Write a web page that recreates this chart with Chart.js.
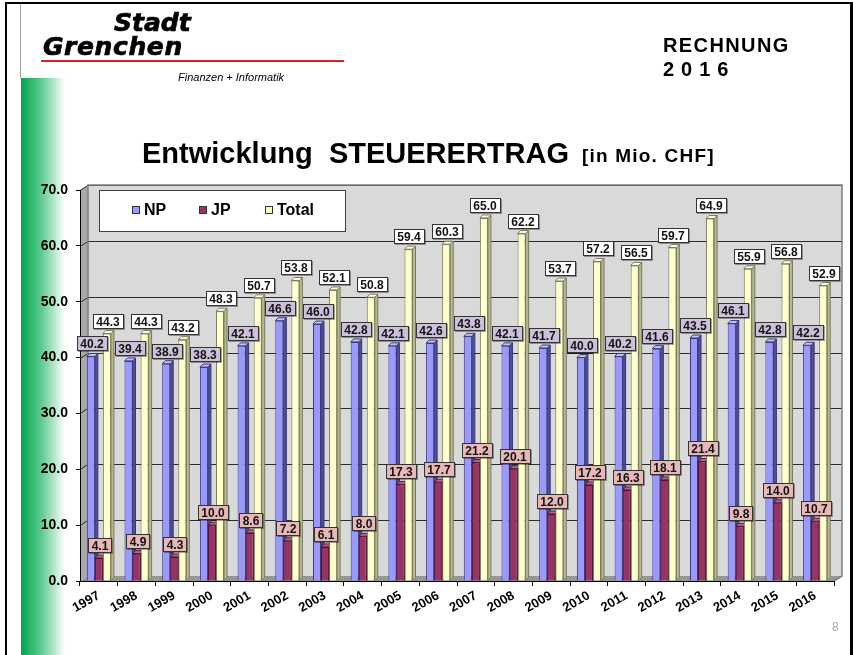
<!DOCTYPE html>
<html>
<head>
<meta charset="utf-8">
<script src="https://cdn.jsdelivr.net/npm/chart.js@4.4.1/dist/chart.umd.min.js"></script>
<style>
  html, body { margin: 0; padding: 0; background: #fff; }
  #page { position: relative; width: 853px; height: 655px; overflow: hidden; background: #fff; }
  .abs { position: absolute; white-space: pre; }
  #frame { left: 5px; top: 2px; width: 843px; height: 700px; border-left: 2px solid #000; border-top: 2px solid #000; border-right: 3px solid #000; }
  #grayline { left: 20px; top: 4px; width: 1px; height: 74px; background: #a0a0a0; }
  #stripe { left: 21px; top: 78px; width: 44px; height: 577px; background: linear-gradient(to right, #00a651 0%, #5cc98c 45%, #ffffff 100%); }
  #stadt, #grenchen { font-family: "DejaVu Sans", sans-serif; font-weight: bold; font-style: italic; font-size: 25px; line-height: 25px; color: #000; -webkit-text-stroke: 0.7px #000; }
  #stadt { left: 114px; top: 10px; }
  #grenchen { left: 43px; top: 34px; letter-spacing: 0.6px; }
  #redline { left: 41px; top: 60px; width: 303px; height: 2px; background: #e31e24; }
  #finanzen { left: 178px; top: 72px; font-family: "Liberation Sans", Arial, sans-serif; font-style: italic; font-size: 11px; line-height: 11px; color: #000; }
  #rechnung { left: 663px; top: 35px; font-family: "Liberation Sans", Arial, sans-serif; font-weight: bold; font-size: 20px; line-height: 20px; letter-spacing: 1.4px; color: #000; }
  #jahr { left: 663px; top: 59px; font-family: "Liberation Sans", Arial, sans-serif; font-weight: bold; font-size: 20px; line-height: 20px; letter-spacing: 0.7px; color: #000; }
  #title { left: 142px; top: 138px; font-family: "Liberation Sans", Arial, sans-serif; font-weight: bold; font-size: 29px; line-height: 30px; color: #000; }
  #unit { left: 582px; top: 146px; font-family: "Liberation Sans", Arial, sans-serif; font-weight: bold; font-size: 19px; line-height: 20px; letter-spacing: 1.2px; color: #000; }
  #pagenum { left: 832px; top: 620px; font-family: "Liberation Sans", Arial, sans-serif; font-size: 12px; color: #a6a6a6; }
  #c { position: absolute; left: 0; top: 0; }
</style>
</head>
<body>
<div id="page">
  <div class="abs" id="stripe"></div>
  <div class="abs" id="grayline"></div>
  <canvas id="c" width="853" height="655"></canvas>
  <div class="abs" id="frame"></div>
  <div class="abs" id="stadt">Stadt</div>
  <div class="abs" id="grenchen">Grenchen</div>
  <div class="abs" id="redline"></div>
  <div class="abs" id="finanzen">Finanzen + Informatik</div>
  <div class="abs" id="rechnung">RECHNUNG</div>
  <div class="abs" id="jahr">2 0 1 6</div>
  <div class="abs" id="title">Entwicklung  STEUERERTRAG</div>
  <div class="abs" id="unit">[in Mio. CHF]</div>
  <div class="abs" id="pagenum">8</div>
</div>
<script>
// ---- Data ----
const years = ['1997','1998','1999','2000','2001','2002','2003','2004','2005','2006','2007','2008','2009','2010','2011','2012','2013','2014','2015','2016'];
const npValues = [40.2, 39.4, 38.9, 38.3, 42.1, 46.6, 46.0, 42.8, 42.1, 42.6, 43.8, 42.1, 41.7, 40.0, 40.2, 41.6, 43.5, 46.1, 42.8, 42.2];
const jpValues = [4.1, 4.9, 4.3, 10.0, 8.6, 7.2, 6.1, 8.0, 17.3, 17.7, 21.2, 20.1, 12.0, 17.2, 16.3, 18.1, 21.4, 9.8, 14.0, 10.7];
const totalValues = [44.3, 44.3, 43.2, 48.3, 50.7, 53.8, 52.1, 50.8, 59.4, 60.3, 65.0, 62.2, 53.7, 57.2, 56.5, 59.7, 64.9, 55.9, 56.8, 52.9];
const seriesNames = ['NP', 'JP', 'Total'];
const yMin = 0, yMax = 70, yStep = 10;

// ---- Styles ----
const FONT = '"Liberation Sans", Arial, sans-serif';
const fill = ['#9999ff', '#993366', '#ffffcc'];
const border = ['#3a3a78', '#4a1530', '#7a7a5c'];
const sideCol = ['#4d4d99', '#5a1e3c', '#b8b890'];
const topCol = ['#c2c2ff', '#c0608e', '#ffffe6'];
const labelBox = ['#ccc0da', '#e6b9b8', '#ffffff'];
const WALL = { dx: 8, dy: -5 };
const BAR_D = 3;

const wallPlugin = {
  id: 'walls',
  beforeDraw(chart) {
    const { ctx, chartArea: a, scales } = chart;
    const L = a.left, R = a.right, T = a.top, B = a.bottom;
    const dx = WALL.dx, dy = WALL.dy;
    ctx.save();
    ctx.fillStyle = '#d9d9d9';
    ctx.fillRect(L + dx, T + dy, R - L, B - T);
    ctx.fillStyle = '#a9a9a9';
    ctx.beginPath();
    ctx.moveTo(L, T); ctx.lineTo(L + dx, T + dy); ctx.lineTo(L + dx, B + dy); ctx.lineTo(L, B); ctx.closePath();
    ctx.fill();
    ctx.fillStyle = '#969696';
    ctx.beginPath();
    ctx.moveTo(L, B); ctx.lineTo(L + dx, B + dy); ctx.lineTo(R + dx, B + dy); ctx.lineTo(R, B); ctx.closePath();
    ctx.fill();
    ctx.strokeStyle = '#2b2b2b';
    ctx.lineWidth = 1;
    for (let v = yMin + yStep; v <= yMax; v += yStep) {
      const py = Math.round(scales.y.getPixelForValue(v)) + 0.5;
      ctx.beginPath();
      ctx.moveTo(L, py); ctx.lineTo(L + dx, py + dy); ctx.lineTo(R + dx, py + dy);
      ctx.stroke();
    }
    ctx.strokeStyle = '#7f7f7f';
    ctx.lineWidth = 1.5;
    ctx.beginPath();
    ctx.moveTo(L + dx, B + dy); ctx.lineTo(L + dx, T + dy); ctx.lineTo(R + dx, T + dy); ctx.lineTo(R + dx, B + dy); ctx.lineTo(R, B);
    ctx.stroke();
    ctx.restore();
  },
  beforeDatasetsDraw(chart) {
    const ctx = chart.ctx;
    const d = BAR_D;
    ctx.save();
    chart.data.datasets.forEach((ds, i) => {
      const meta = chart.getDatasetMeta(i);
      meta.data.forEach(bar => {
        const l = bar.x - bar.width / 2, r = bar.x + bar.width / 2, t = bar.y, b = bar.base;
        ctx.lineWidth = 1;
        ctx.strokeStyle = border[i];
        ctx.fillStyle = sideCol[i];
        ctx.beginPath();
        ctx.moveTo(r, t); ctx.lineTo(r + d, t - d); ctx.lineTo(r + d, b - d); ctx.lineTo(r, b); ctx.closePath();
        ctx.fill(); ctx.stroke();
        ctx.fillStyle = topCol[i];
        ctx.beginPath();
        ctx.moveTo(l, t); ctx.lineTo(l + d, t - d); ctx.lineTo(r + d, t - d); ctx.lineTo(r, t); ctx.closePath();
        ctx.fill(); ctx.stroke();
      });
    });
    ctx.restore();
  },
  afterDatasetsDraw(chart) {
    const ctx = chart.ctx;
    ctx.save();
    ctx.font = 'bold 12px ' + FONT;
    ctx.textAlign = 'center';
    ctx.textBaseline = 'middle';
    chart.data.datasets.forEach((ds, i) => {
      const meta = chart.getDatasetMeta(i);
      meta.data.forEach((bar, j) => {
        const txt = ds.data[j].toFixed(1);
        const w = Math.ceil(ctx.measureText(txt).width) + 7;
        const h = 15;
        const cx = Math.round(bar.x + 1);
        const bottom = Math.round(bar.y - BAR_D - 2);
        const x0 = cx - w / 2, y0 = bottom - h;
        ctx.fillStyle = 'rgba(0,0,0,0.35)';
        ctx.fillRect(Math.round(x0) + 1, y0 + 1, w, h);
        ctx.fillStyle = labelBox[i];
        ctx.fillRect(Math.round(x0), y0, w, h);
        ctx.strokeStyle = '#333333';
        ctx.lineWidth = 1;
        ctx.strokeRect(Math.round(x0) + 0.5, y0 + 0.5, w - 1, h - 1);
        ctx.fillStyle = '#111111';
        ctx.fillText(txt, cx, y0 + h / 2 + 1);
      });
    });
    ctx.restore();
  },
  afterDraw(chart) {
    const ctx = chart.ctx;
    ctx.save();
    ctx.fillStyle = '#ffffff';
    ctx.fillRect(99, 190, 247, 42);
    ctx.strokeStyle = '#404040';
    ctx.lineWidth = 1;
    ctx.strokeRect(99.5, 190.5, 246, 41);
    const xs = [132, 199, 265];
    ctx.font = 'bold 16px ' + FONT;
    ctx.textBaseline = 'middle';
    ctx.textAlign = 'left';
    chart.data.datasets.forEach((ds, i) => {
      ctx.fillStyle = ds.backgroundColor;
      ctx.fillRect(xs[i], 206, 8, 8);
      ctx.strokeStyle = '#333';
      ctx.strokeRect(xs[i] + 0.5, 206.5, 7, 7);
      ctx.fillStyle = '#000';
      ctx.fillText(ds.label, xs[i] + 12, 211);
    });
    ctx.restore();
  }
};

const datasets = [npValues, jpValues, totalValues].map((vals, i) => ({
  label: seriesNames[i],
  data: vals,
  backgroundColor: fill[i],
  borderColor: border[i],
  borderWidth: 1,
  categoryPercentage: 0.64,
  barPercentage: 1.0
}));

new Chart(document.getElementById('c'), {
  type: 'bar',
  data: { labels: years, datasets },
  options: {
    responsive: false,
    animation: false,
    devicePixelRatio: 1,
    layout: { padding: { left: 40, top: 190, right: 19, bottom: 0 } },
    plugins: { legend: { display: false }, tooltip: { enabled: false } },
    scales: {
      y: {
        min: yMin, max: yMax,
        ticks: { stepSize: yStep, padding: 8, color: '#000', font: { family: FONT, weight: 'bold', size: 14 }, callback: v => Number(v).toFixed(1) },
        grid: { drawOnChartArea: false, tickLength: 4, color: '#000' },
        border: { display: true, color: '#000' },
        afterFit: s => { s.width = 40; }
      },
      x: {
        ticks: { minRotation: 30, maxRotation: 30, padding: 2, color: '#000', font: { family: FONT, weight: 'bold', size: 13 } },
        grid: { offset: true, drawOnChartArea: false, tickLength: 5, color: '#000' },
        border: { display: true, color: '#000' },
        afterFit: s => { s.height = 74; }
      }
    }
  },
  plugins: [wallPlugin]
});
</script>
</body>
</html>
